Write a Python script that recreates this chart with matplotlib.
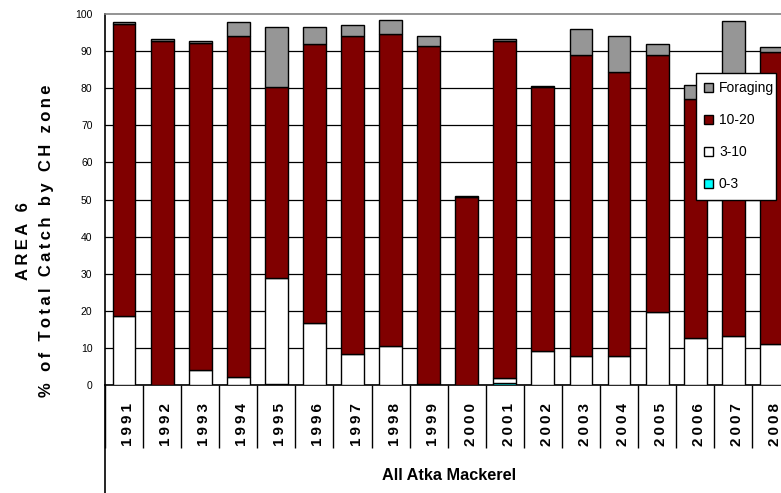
import matplotlib
matplotlib.use("Agg")
import matplotlib.pyplot as plt
import matplotlib.transforms as mtransforms
import matplotlib.font_manager as fm
from matplotlib.lines import Line2D
import numpy as np

years = ["1991", "1992", "1993", "1994", "1995", "1996", "1997", "1998", "1999",
         "2000", "2001", "2002", "2003", "2004", "2005", "2006", "2007", "2008"]
zone_0_3 = [0, 0, 0, 0, 0.3, 0, 0, 0, 0.3, 0, 0.5, 0, 0, 0, 0, 0, 0, 0]
zone_3_10 = [18.7, 0, 4.0, 2.2, 28.6, 16.6, 8.3, 10.5, 0, 0, 1.3, 9.2, 7.8, 7.8, 19.7, 12.8, 13.2, 11.0]
zone_10_20 = [78.6, 92.8, 88.2, 91.9, 51.4, 75.3, 85.8, 84.1, 91.1, 50.6, 90.9, 71.0, 81.2, 76.7, 69.3, 64.3, 69.8, 78.8]
foraging = [0.5, 0.4, 0.5, 3.7, 16.2, 4.6, 2.9, 3.8, 2.7, 0.3, 0.5, 0.5, 7.0, 9.7, 2.9, 3.7, 15.2, 1.4]
series_names = ["0-3", "3-10", "10-20", "Foraging"]
series_colors = ["#00FFFF", "#FFFFFF", "#800000", "#969696"]
yticks = list(range(0, 101, 10))
xlabel = "All Atka Mackerel"
ylabel_line1 = "AREA 6"
ylabel_line2 = "% of Total Catch by CH zone"

names = {f.name for f in fm.fontManager.ttflist}
NARROW = "Liberation Sans Narrow" in names
SANS = ["Liberation Sans", "DejaVu Sans"]
NARROW_FAM = ["Liberation Sans Narrow", "Liberation Sans", "DejaVu Sans"] if NARROW else SANS

W, H = 781, 493
fig = plt.figure(figsize=(W / 100, H / 100), dpi=100)
ax = fig.add_axes([105 / W, (H - 385) / H, 685.4 / W, 371 / H])

x = np.arange(len(years))
bottom = np.zeros(len(years))
handles = []
for vals, name, col in zip([zone_0_3, zone_3_10, zone_10_20, foraging], series_names, series_colors):
    bc = ax.bar(x, vals, width=0.6, bottom=bottom, color=col, edgecolor="black",
                linewidth=1.0, label=name, zorder=3)
    handles.append(bc)
    bottom += np.array(vals)

ax.set_xlim(-0.5, len(years) - 0.5)
ax.set_ylim(0, 100)
ax.set_yticks(yticks)
ax.set_yticklabels([str(v) for v in yticks], family=NARROW_FAM,
                   fontsize=8.5 if NARROW else 7.5)
ax.tick_params(axis="y", length=0, pad=9)
ax.yaxis.grid(True, color="black", linewidth=0.9, zorder=0)
ax.get_ygridlines()[-1].set_visible(False)
ax.set_axisbelow(True)

# category separators (tick marks at boundaries)
ax.set_xticks(np.arange(-0.5, len(years) + 0.5, 1.0))
ax.set_xticklabels([])
ax.tick_params(axis="x", direction="out", length=63 * 72 / 100, width=1.0, color="black")

for s in ["left", "bottom"]:
    ax.spines[s].set_color("black")
    ax.spines[s].set_linewidth(1.2)
ax.spines["top"].set_color("#808080")
ax.spines["top"].set_linewidth(1.2)
ax.spines["right"].set_visible(False)

# year labels
off = mtransforms.ScaledTranslation(4 / 100, -18 / 100, fig.dpi_scale_trans)
trans = mtransforms.blended_transform_factory(ax.transData, ax.transAxes) + off
for i, yr in enumerate(years):
    ax.text(i, 0, "\u2009".join(yr), transform=trans, rotation=90, ha="center", va="top",
            fontsize=11 if not NARROW else 13, fontweight="bold", family=NARROW_FAM,
            clip_on=False)

# extended left axis line through category area
fig.add_artist(Line2D([105 / W, 105 / W], [0, (H - 385) / H], transform=fig.transFigure,
                      color="black", linewidth=1.2))

fig.text(449 / W, 1 - 475 / H, xlabel, ha="center", va="center",
         fontsize=14 if NARROW else 11.7, fontweight="bold", family=NARROW_FAM)

sp = "\u2009"
fig.text(24 / W, 1 - 241 / H, sp.join(ylabel_line1), rotation=90, ha="center", va="center",
         fontsize=12, fontweight="bold", family=SANS)
fig.text(47 / W, 1 - 241 / H, sp.join(ylabel_line2), rotation=90, ha="center", va="center",
         fontsize=12, fontweight="bold", family=SANS)

leg = ax.legend(handles[::-1], series_names[::-1], loc="upper left",
                bbox_to_anchor=(696 / W, (H - 202) / H, 80 / W, 129 / H),
                bbox_transform=fig.transFigure, mode="expand",
                borderaxespad=0, fancybox=False, shadow=False, frameon=True, framealpha=1,
                prop={"family": SANS, "size": 10},
                handlelength=0.6, handleheight=0.6, handletextpad=0.45,
                labelspacing=1.3, borderpad=0.6)
leg.get_frame().set_edgecolor("black")
leg.get_frame().set_facecolor("white")
leg.get_frame().set_linewidth(1.0)
leg.set_zorder(10)

fig.savefig("out.png", dpi=100)
